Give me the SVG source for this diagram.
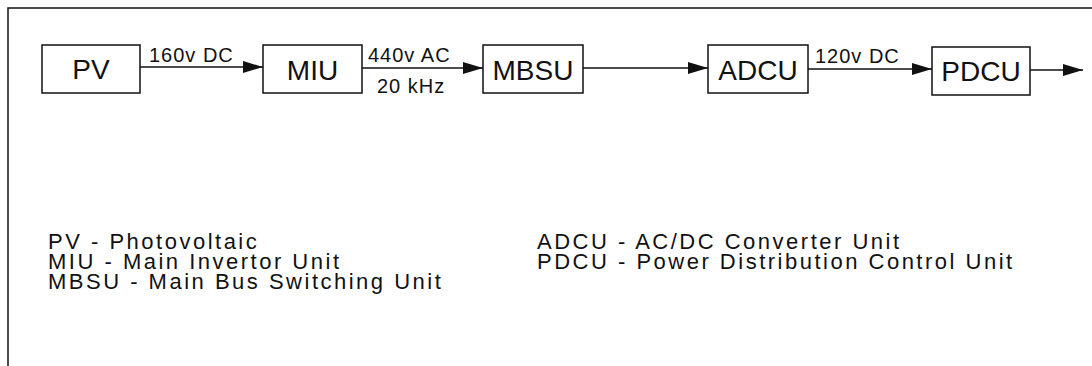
<svg xmlns="http://www.w3.org/2000/svg" width="1092" height="366" viewBox="0 0 1092 366">
<style>
.box{fill:#fff;stroke:#111;stroke-width:1.5}
.nl{font-family:"Liberation Sans",Arial,sans-serif;font-size:28px;fill:#111;text-anchor:middle}
.el{font-family:"Liberation Sans",Arial,sans-serif;font-size:20px;fill:#111;letter-spacing:1px}
.lg{font-family:"Liberation Sans",Arial,sans-serif;font-size:22px;fill:#111;letter-spacing:2.5px}
.cn{stroke:#111;stroke-width:1.5;fill:none;marker-end:url(#ah)}
</style>
<defs>
<marker id="ah" markerUnits="userSpaceOnUse" markerWidth="20" markerHeight="12" refX="20" refY="6" orient="auto">
<path d="M0,0 L20,6 L0,12 Z" fill="#111"/>
</marker>
</defs>
<rect width="1092" height="366" fill="#fff"/>
<path d="M8,366 V8 H1092" fill="none" stroke="#111" stroke-width="1.5"/>
<g id="connectors">
<line class="cn" x1="140" y1="67" x2="263" y2="67"/>
<line class="cn" x1="362" y1="68" x2="483" y2="68"/>
<line class="cn" x1="583" y1="68" x2="708" y2="68"/>
<line class="cn" x1="808" y1="69" x2="932" y2="69"/>
<line class="cn" x1="1030" y1="70" x2="1083" y2="70"/>
<text class="el" x="149" y="62">160v DC</text>
<text class="el" x="368" y="62">440v AC</text>
<text class="el" x="377" y="93">20 kHz</text>
<text class="el" x="815" y="63">120v DC</text>
</g>
<g id="pv"><rect class="box" x="42" y="45" width="98" height="48"/><text class="nl" x="91" y="79">PV</text></g>
<g id="miu"><rect class="box" x="263" y="45" width="99" height="48"/><text class="nl" x="312.5" y="80">MIU</text></g>
<g id="mbsu"><rect class="box" x="483" y="45" width="100" height="48"/><text class="nl" x="533" y="80">MBSU</text></g>
<g id="adcu"><rect class="box" x="708" y="45" width="100" height="48"/><text class="nl" x="758" y="80">ADCU</text></g>
<g id="pdcu"><rect class="box" x="932" y="47" width="98" height="48"/><text class="nl" x="981" y="81">PDCU</text></g>
<g id="legend">
<text class="lg" x="48" y="249">PV - Photovoltaic</text>
<text class="lg" x="48" y="269">MIU - Main Invertor Unit</text>
<text class="lg" x="48" y="289">MBSU - Main Bus Switching Unit</text>
<text class="lg" x="537" y="249">ADCU - AC/DC Converter Unit</text>
<text class="lg" x="537" y="269">PDCU - Power Distribution Control Unit</text>
</g>
</svg>
